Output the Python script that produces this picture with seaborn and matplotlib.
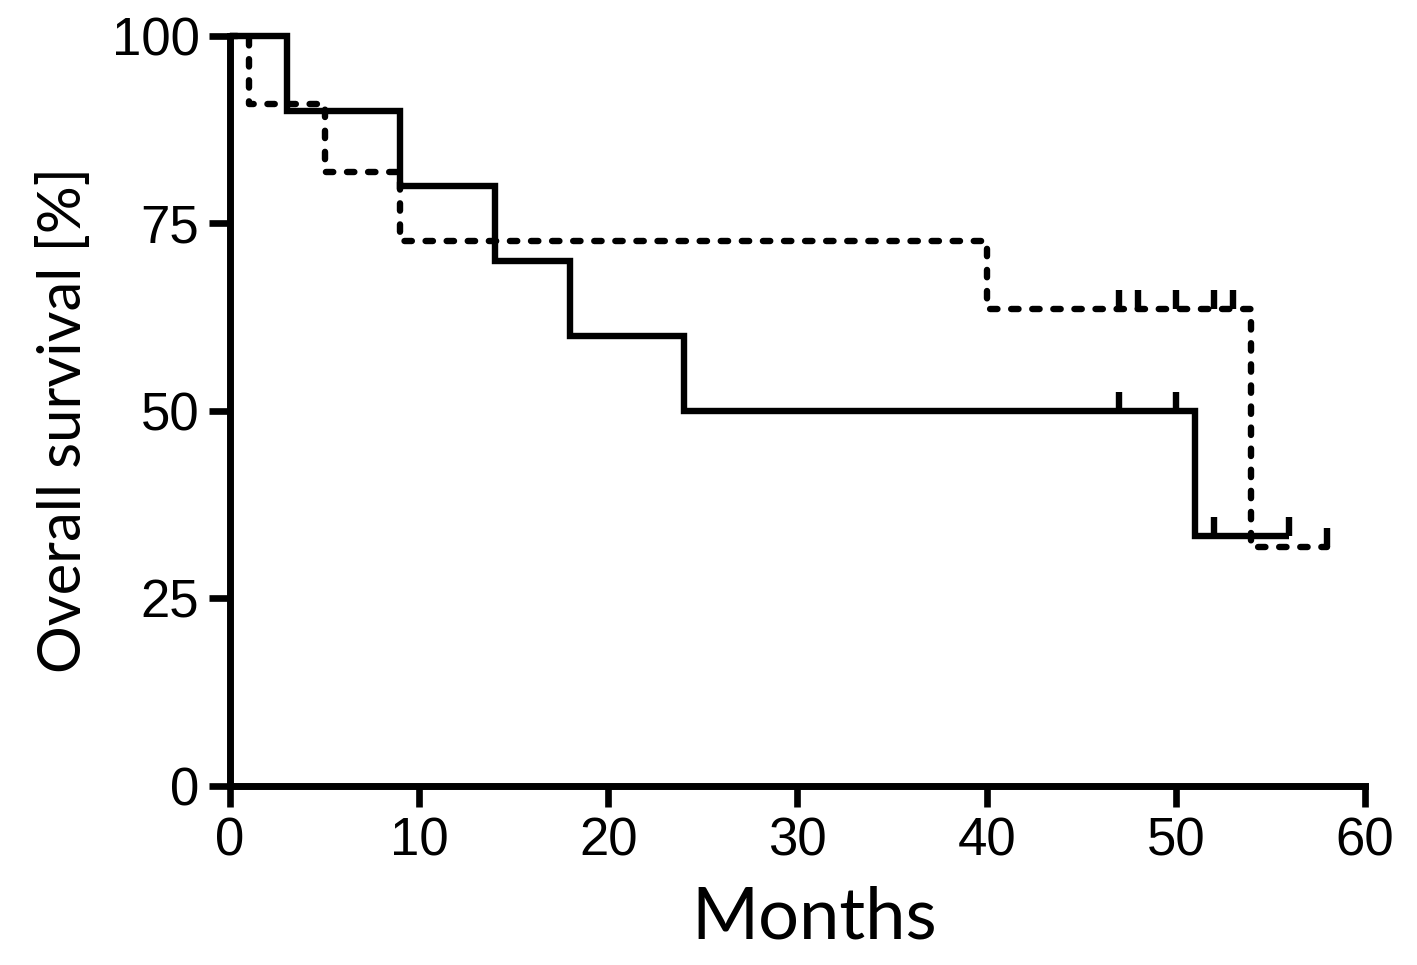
import numpy as np
import pandas as pd
import matplotlib
matplotlib.use("Agg")
import matplotlib.pyplot as plt
from matplotlib.path import Path
import seaborn as sns

# ---- data ----
solid_time = [0, 3, 9, 14, 18, 24, 51, 56]
solid_surv = [100, 90, 80, 70, 60, 50, 33.3, 33.3]
solid_cens_time = [47, 50, 52, 56]
solid_cens_surv = [50, 50, 33.3, 33.3]

dashed_time = [0, 1, 5, 9, 40, 54, 58]
dashed_surv = [100, 90.9, 81.8, 72.7, 63.6, 31.8, 31.8]
dashed_cens_time = [47, 48, 50, 52, 53, 58]
dashed_cens_surv = [63.6, 63.6, 63.6, 63.6, 63.6, 31.8]

x_ticks = [0, 10, 20, 30, 40, 50, 60]
y_ticks = [0, 25, 50, 75, 100]

sns.set_style("ticks")
plt.rcParams['font.family'] = ['Liberation Sans', 'DejaVu Sans']
plt.rcParams['text.color'] = 'black'
plt.rcParams['axes.labelcolor'] = 'black'

fig = plt.figure(figsize=(14.17, 9.65), dpi=100)
ax = fig.add_axes([0.1623, 0.1855, 0.9633 - 0.1623, 0.9627 - 0.1855])

df_solid = pd.DataFrame({"Months": solid_time, "Survival": solid_surv})
df_dashed = pd.DataFrame({"Months": dashed_time, "Survival": dashed_surv})

lw = 4.6
sns.lineplot(data=df_solid, x="Months", y="Survival", ax=ax, color="black",
             linewidth=lw, drawstyle="steps-post", estimator=None, sort=False,
             solid_joinstyle="miter", solid_capstyle="butt", clip_on=False, zorder=3)
sns.lineplot(data=df_dashed, x="Months", y="Survival", ax=ax, color="black",
             linewidth=lw, drawstyle="steps-post", estimator=None, sort=False,
             clip_on=False, zorder=3)
dl = ax.lines[-1]
dl.set_dashes((1.15, 2.15))
dl.set_dash_capstyle("round")

tick_path = Path([(0, 0), (0, 1)], [Path.MOVETO, Path.LINETO])
ax.plot(solid_cens_time, solid_cens_surv, linestyle="none", marker=tick_path,
        markersize=27, markeredgewidth=lw, color="black", clip_on=False, zorder=4)
ax.plot(dashed_cens_time, dashed_cens_surv, linestyle="none", marker=tick_path,
        markersize=27, markeredgewidth=lw, color="black", clip_on=False, zorder=4)

ax.set_xlim(0, 60)
ax.set_ylim(0, 100)
ax.set_xticks(x_ticks)
ax.set_yticks(y_ticks)
ax.set_xticklabels([str(v) for v in x_ticks])
ax.set_yticklabels([str(v) for v in y_ticks])

for s in ["top", "right"]:
    ax.spines[s].set_visible(False)
for s in ["left", "bottom"]:
    ax.spines[s].set_linewidth(5)
    ax.spines[s].set_color("black")
    ax.spines[s].set_capstyle("projecting")
ax.tick_params(axis="both", direction="out", length=15, width=4.8, color="black",
               labelsize=38, labelcolor="black")
ax.tick_params(axis="y", pad=7)
ax.tick_params(axis="x", pad=7)

ax.set_xlabel("Months", fontsize=52, family=["Lato", "DejaVu Sans"], color="black",
              va="baseline")
ax.xaxis.set_label_coords(0.515, -0.2027)
ax.set_ylabel("Overall survival [%]", fontsize=43, family=["Lato", "DejaVu Sans"],
              color="black", va="center")
ax.yaxis.set_label_coords(-0.147, 0.488)

fig.savefig("out.png", dpi=100, facecolor="white")
